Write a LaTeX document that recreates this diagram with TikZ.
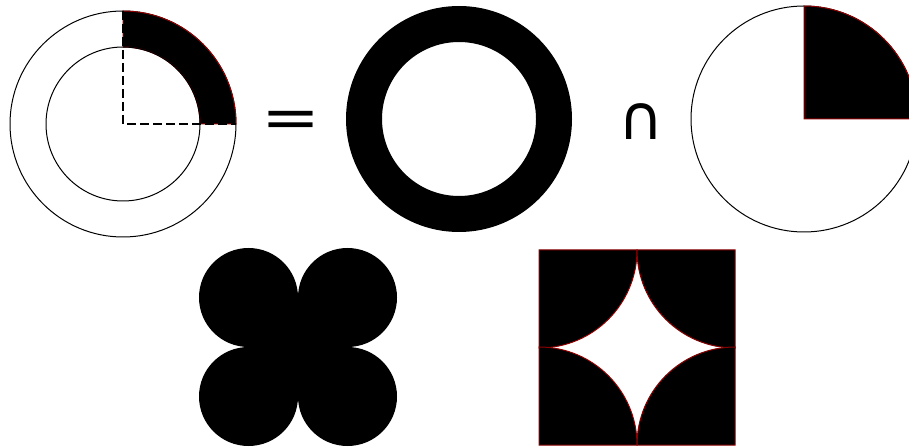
\documentclass[tikz,border=0pt]{standalone}
\usepackage{fontspec}
\newfontfamily\symfont{DejaVu Sans}
\definecolor{edgered}{HTML}{8B0000}
\begin{document}
\begin{tikzpicture}[x=1pt,y=1pt,
 outline/.style={draw=black,line width=1pt},
 piece/.style={fill=black,draw=edgered,line width=1pt},
 guide/.style={draw=black,line width=1.2pt,dash pattern=on 9pt off 4pt},
 sym/.style={font=\symfont\fontsize{62}{62}\selectfont,inner sep=0pt}
]
\clip (0,0) rectangle (909,447);
\coordinate (ring) at (123,323);
\coordinate (band) at (459,328);
\coordinate (disc) at (804,328);

\draw[outline] (ring) circle[radius=113];
\draw[piece] ([xshift=77]ring) -- ([xshift=113]ring) arc[start angle=0,end angle=90,radius=113]
 -- ([yshift=77]ring) arc[start angle=90,end angle=0,radius=77] -- cycle;
\draw[outline] (ring) circle[radius=77];
\draw[guide] ([yshift=113]ring) -- (ring) -- ([xshift=113]ring);

\node[sym,font=\symfont\fontsize{64}{64}\selectfont,xscale=1.1,yscale=0.9,transform shape] (eq) at (291,322.5) {=};

\fill[even odd rule] (band) circle[radius=113] (band) circle[radius=77];

\node[sym] (cap) at (641,325) {∩};

\draw[outline] (disc) circle[radius=113];
\draw[piece] (disc) -- ([xshift=113]disc) arc[start angle=0,end angle=90,radius=113] -- cycle;

\fill (248.5,50.5) rectangle (347.5,149.5);
\foreach \x in {248.5,347.5}
 \foreach \y in {50.5,149.5}
  \fill (\x,\y) circle[radius=49.5];

\foreach \x/\y/\s in {539/197/270,735/197/180,735/2/90,539/2/0}
 \draw[piece] (\x,\y) -- ++(\s:98) arc[start angle=\s,delta angle=90,radius=98] -- cycle;
\end{tikzpicture}
\end{document}
